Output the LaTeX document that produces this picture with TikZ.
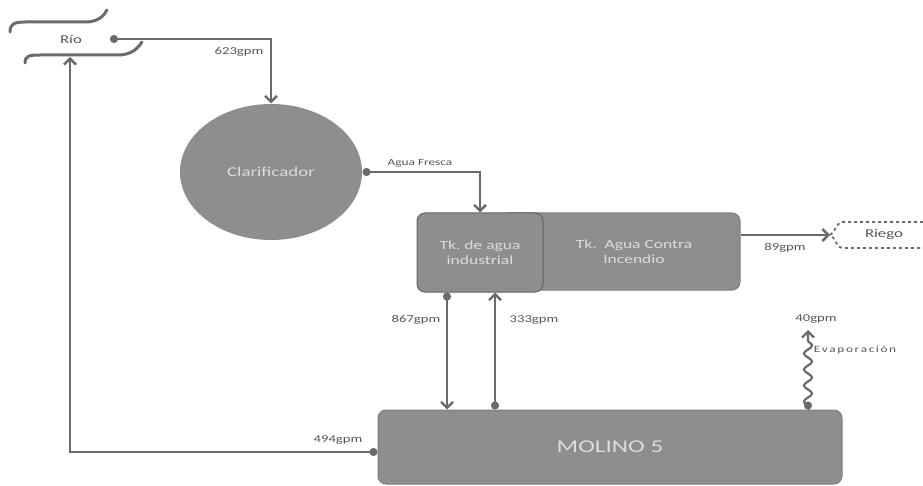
\documentclass[tikz,border=0pt]{standalone}
\usepackage{fontspec}
\setmainfont[FakeStretch=1.4]{Carlito}
\usetikzlibrary{arrows.meta,decorations.pathmorphing,shapes.geometric}
\definecolor{flujo}{HTML}{6A6A6A}
\definecolor{equipo}{HTML}{8E8E8E}
\definecolor{borde}{HTML}{7C7C7C}
\definecolor{rotulo}{HTML}{DCDCDC}
\definecolor{texto}{HTML}{555555}
\begin{document}
\begin{tikzpicture}[x=1pt,y=-1pt,
  linea/.style={draw=flujo,line width=2.4pt,{Circle[length=8pt]}-{Straight Barb[length=6pt,width=12pt]}},
  lineaflecha/.style={draw=flujo,line width=2.4pt,-{Straight Barb[length=6pt,width=12pt]}},
  equipobox/.style={rectangle,rounded corners=8pt,fill=equipo,draw=borde,line width=1pt,text=rotulo,align=center,font=\fontsize{12.5}{15}\selectfont},
  etiq/.style={text=texto,font=\fontsize{10.5}{11}\selectfont,inner sep=1pt}]

\useasboundingbox (0,0) rectangle (923,486);

% rio
\draw[flujo,line width=3pt,line cap=round]
  (10,32) .. controls (10,24) and (14,22) .. (25,22) -- (85,22) .. controls (98,22) and (104,16) .. (107,10);
\draw[flujo,line width=3pt,line cap=round]
  (25,63) .. controls (25,56) and (29,55) .. (40,55) -- (118,55) .. controls (132,55) and (138,48) .. (142,42);
\node[etiq,font=\fontsize{12}{13}\selectfont] (rio) at (71,39) {Río};
\coordinate (rioout) at (110,39);
\coordinate (rioin) at (70,57);

% equipos
\node[equipobox,ellipse,draw=none,minimum width=182pt,minimum height=136pt,font=\fontsize{13.5}{15}\selectfont] (clar) at (271,172) {Clarificador};
\node[equipobox,minimum width=240pt,minimum height=77pt] (tkci) at (620,251.5) {\hspace*{28pt}Tk.\ \ Agua Contra\\\hspace*{28pt}Incendio};
\node[equipobox,draw=borde!80!black,minimum width=126pt,minimum height=79pt] (ind) at (480,252.5) {Tk.\ de agua\\industrial};
\node[equipobox,minimum width=464pt,minimum height=74pt,font=\fontsize{18}{20}\selectfont] (molino) at (610,447) {MOLINO 5};

% riego
\draw[flujo,line width=1.8pt,dashed]
  (923,222) -- (842,222) .. controls (835,224) and (836,232) .. (830,235)
  .. controls (836,238) and (835,246) .. (842,248) -- (923,248);
\coordinate (riegoin) at (830,235);
\node[etiq,font=\fontsize{12}{13}\selectfont] (riego) at (884,234) {Riego};

% flujos
\draw[linea] (rioout) -| (clar.north);
\node[etiq] (l623) at (239,52) {623gpm};
\draw[linea] (clar.east) -| (ind.north);
\node[etiq,font=\fontsize{9.5}{10}\selectfont] (lagua) at (420,163) {Agua Fresca};
\draw[linea] ([xshift=-33pt]ind.south) -- ([xshift=-33pt]ind.south |- molino.north);
\node[etiq] (l867) at (416,320) {867gpm};
\draw[linea] ([xshift=15pt]ind.south |- molino.north) -- ([xshift=15pt]ind.south);
\node[etiq] (l333) at (534,320) {333gpm};
\draw[lineaflecha] ([yshift=16.5pt]tkci.east) -- (riegoin);
\node[etiq] (l89) at (785,248) {89gpm};
\draw[linea] ([yshift=-5pt]molino.west) -| (rioin);
\node[etiq] (l494) at (338,440) {494gpm};
\coordinate (evap) at (808,330);
\draw[linea,line width=2.2pt,decorate,decoration={snake,amplitude=4pt,segment length=16pt,pre length=3pt,post length=7pt}]
  ([xshift=198pt]molino.north) -- (evap);
\node[etiq] (l40) at (816,319) {40gpm};
\node[etiq,font=\fontsize{9.5}{10}\selectfont] (levap) at (855,350) {E\,v\,a\,p\,o\,r\,a\,c\,i\,ó\,n};

\end{tikzpicture}
\end{document}
